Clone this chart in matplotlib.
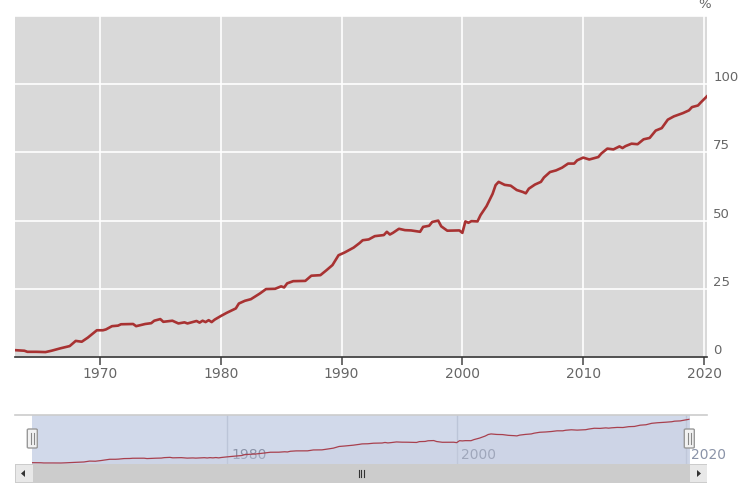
import matplotlib.pyplot as plt
from matplotlib.patches import Rectangle, FancyBboxPatch, Polygon
from matplotlib.lines import Line2D
import matplotlib.transforms as mtransforms

# Données (année décimale, %)
annees = [1963.0, 1963.75, 1964.0, 1964.75, 1965.5, 1966.0, 1966.75, 1967.5, 1968.0, 1968.5,
          1969.0, 1969.75, 1970.25, 1970.5, 1971.0, 1971.5, 1971.75, 1972.75, 1973.0, 1973.75,
          1974.25, 1974.5, 1975.0, 1975.25, 1976.0, 1976.5, 1977.0, 1977.25, 1978.0, 1978.25,
          1978.5, 1978.75, 1979.0, 1979.25, 1979.5, 1980.0, 1980.5, 1981.25, 1981.5, 1982.0,
          1982.5, 1983.25, 1983.75, 1984.5, 1985.0, 1985.25, 1985.5, 1986.0, 1987.0, 1987.5,
          1988.25, 1988.75, 1989.25, 1989.75, 1990.25, 1991.0, 1991.5, 1991.75, 1992.25, 1992.75,
          1993.5, 1993.75, 1994.0, 1994.25, 1994.75, 1995.25, 1995.75, 1996.5, 1996.75, 1997.25,
          1997.5, 1998.0, 1998.25, 1998.75, 1999.75, 2000.0, 2000.25, 2000.5, 2000.75, 2001.25,
          2001.5, 2002.0, 2002.5, 2002.75, 2003.0, 2003.5, 2004.0, 2004.5, 2005.0, 2005.25,
          2005.5, 2006.0, 2006.5, 2006.75, 2007.25, 2007.75, 2008.25, 2008.75, 2009.25, 2009.5,
          2010.0, 2010.5, 2011.25, 2011.5, 2012.0, 2012.5, 2013.0, 2013.25, 2013.5, 2014.0,
          2014.5, 2015.0, 2015.5, 2016.0, 2016.5, 2017.0, 2017.5, 2018.25, 2018.75, 2019.0,
          2019.5, 2019.75, 2020.25]
valeurs = [2.5, 2.3, 1.9, 1.9, 1.8, 2.3, 3.2, 4.0, 5.9, 5.6,
           7.1, 9.8, 9.8, 10.1, 11.3, 11.5, 12.0, 12.1, 11.3, 12.1,
           12.4, 13.3, 13.9, 12.9, 13.3, 12.3, 12.7, 12.3, 13.2, 12.6,
           13.3, 12.8, 13.5, 12.8, 13.7, 15.0, 16.2, 17.8, 19.6, 20.6,
           21.2, 23.3, 24.9, 25.0, 25.9, 25.5, 27.0, 27.8, 27.9, 29.8,
           30.0, 31.8, 33.7, 37.3, 38.3, 40.1, 41.8, 42.8, 43.1, 44.3,
           44.7, 45.9, 44.9, 45.5, 47.0, 46.5, 46.4, 45.9, 47.7, 48.1,
           49.5, 50.0, 47.9, 46.3, 46.4, 45.5, 49.7, 49.2, 49.8, 49.7,
           52.0, 55.3, 59.8, 63.0, 64.2, 63.1, 62.8, 61.2, 60.5, 60.0,
           61.7, 63.2, 64.2, 65.8, 67.8, 68.4, 69.4, 70.9, 70.9, 72.1,
           73.1, 72.4, 73.3, 74.6, 76.4, 76.1, 77.2, 76.6, 77.3, 78.2,
           78.0, 79.8, 80.3, 83.0, 83.9, 87.0, 88.2, 89.4, 90.4, 91.6,
           92.2, 93.4, 95.6]

ticks_x = [1970, 1980, 1990, 2000, 2010, 2020]
ticks_y = [0, 25, 50, 75, 100, 125]
labels_y = ['0', '25', '50', '75', '100', '']
ticks_nav = [1980, 2000, 2020]

W, H = 743, 492
fig = plt.figure(figsize=(W / 100, H / 100), dpi=100)

def fx(px):
    return px / W

def fy(py):
    return 1 - py / H

# Graphique principal
ax = fig.add_axes([fx(15.3), fy(357), fx(707.3 - 15.3), (357 - 16) / H])
ax.set_facecolor('#d9d9d9')
ax.plot(annees, valeurs, color='#a83232', lw=1.9, solid_joinstyle='round', zorder=3)
ax.set_xlim(1963.0, 2020.27)
ax.set_ylim(0, 125)
ax.set_xticks(ticks_x)
ax.set_yticks(ticks_y)
ax.set_yticklabels(labels_y)
ax.grid(True, color='white', lw=1.2)
ax.set_axisbelow(True)
for s in ['top', 'left', 'right']:
    ax.spines[s].set_visible(False)
ax.spines['bottom'].set_color('#333333')
ax.spines['bottom'].set_linewidth(1.2)
ax.tick_params(axis='x', length=6, width=1.2, color='#555555', pad=1.5,
               labelsize=10, labelcolor='#666666')
ax.yaxis.tick_right()
ax.tick_params(axis='y', length=0, pad=4.3, labelsize=9.5, labelcolor='#666666')
decal = mtransforms.ScaledTranslation(0, 8 / 100, fig.dpi_scale_trans)
for lab in ax.get_yticklabels():
    lab.set_transform(lab.get_transform() + decal)
fig.text(fx(705), fy(5), '%', ha='center', va='center', fontsize=9.5, color='#666666')

# Navigateur
ax_nav = fig.add_axes([fx(32.3), fy(464), fx(689.5 - 32.3), (464 - 414.7) / H])
ax_nav.set_facecolor('#d1d9ea')
ax_nav.plot(annees, valeurs, color='#a8404e', lw=0.9, zorder=3)
ax_nav.fill_between(annees, valeurs, -5, color='#c8cde0', alpha=0.35, lw=0, zorder=2)
ax_nav.set_xlim(1963.0, 2020.3)
ax_nav.set_ylim(-0.35, 105.5)
ax_nav.set_xticks(ticks_nav)
ax_nav.set_yticks([])
ax_nav.tick_params(axis='x', length=0, labelbottom=False)
ax_nav.grid(True, axis='x', color='#bcc5d8', lw=1)
for s in ax_nav.spines.values():
    s.set_visible(False)
tr_nav = mtransforms.blended_transform_factory(ax_nav.transData, ax_nav.transAxes)
tr_nav = tr_nav + mtransforms.ScaledTranslation(4.5 / 100, 0, fig.dpi_scale_trans)
for a in ticks_nav:
    ax_nav.text(a, 0.18, str(a), transform=tr_nav, ha='left', va='center',
                fontsize=10, color='#8a93a8', clip_on=False, zorder=1)

# ligne du haut du navigateur
fig.add_artist(Line2D([fx(15), fx(707)], [fy(414.7), fy(414.7)], color='#cccccc', lw=1.2))

# Barre de défilement
fig.add_artist(Rectangle((fx(15), fy(483)), fx(692), (483 - 464) / H,
                         facecolor='#cccccc', edgecolor='none'))
for x0 in [15, 689]:
    fig.add_artist(Rectangle((fx(x0 + 1), fy(482)), fx(17), (482 - 465) / H,
                             facecolor='#e8e8e8', edgecolor='none'))
fig.add_artist(Polygon([(fx(21), fy(473.5)), (fx(25), fy(470)), (fx(25), fy(477))],
                       closed=True, facecolor='#333333', edgecolor='none'))
fig.add_artist(Polygon([(fx(701), fy(473.5)), (fx(697), fy(470)), (fx(697), fy(477))],
                       closed=True, facecolor='#333333', edgecolor='none'))
for dx in [-2.5, 0, 2.5]:
    fig.add_artist(Line2D([fx(361 + dx), fx(361 + dx)], [fy(470), fy(477)],
                          color='#333333', lw=0.8))

# Poignées du navigateur
for xc in [32.3, 689.3]:
    fig.add_artist(FancyBboxPatch((fx(xc - 5), fy(448)), fx(10), (448 - 429) / H,
                                  boxstyle='round,pad=0,rounding_size=0.002',
                                  facecolor='#f2f2f2', edgecolor='#999999', lw=1))
    for dx in [-1.5, 1.5]:
        fig.add_artist(Line2D([fx(xc + dx), fx(xc + dx)], [fy(433), fy(444)],
                              color='#888888', lw=0.8))

fig.savefig('out.png', dpi=100)
